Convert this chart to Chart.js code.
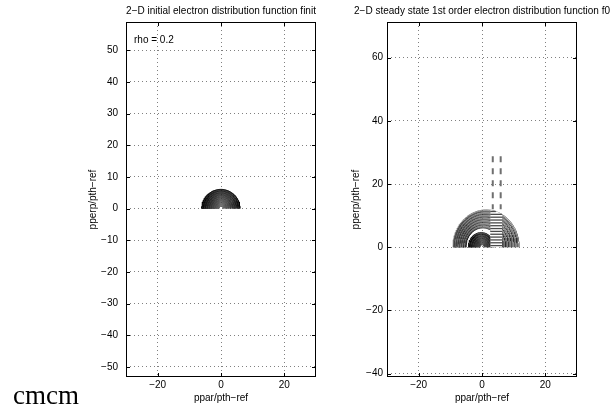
<!DOCTYPE html>
<html>
<head>
<meta charset="utf-8">
<script src="https://cdn.jsdelivr.net/npm/chart.js@4.4.1/dist/chart.umd.min.js"></script>
<style>
  html, body { margin: 0; padding: 0; background: #fff; }
  #wrap { position: relative; width: 611px; height: 414px; overflow: hidden; }
  #wrap canvas { position: absolute; left: 0; top: 0; }
</style>
</head>
<body>
<div id="wrap">
  <canvas id="cInit" width="611" height="414"></canvas>
  <canvas id="cSteady" width="611" height="414"></canvas>
</div>
<script>
// ---- axes ----
const xRange = [-30, 30];
const xTicks = [-20, 0, 20];
const initYRange = [-53.2, 58.9];
const initYTicks = [-50, -40, -30, -20, -10, 0, 10, 20, 30, 40, 50];
const steadyYRange = [-41.1, 71.3];
const steadyYTicks = [-40, -20, 0, 20, 40, 60];

// ---- initial distribution: contour levels (radius in p/pth) ----
const initLevels = [0.7, 0.9, 1.1, 1.3, 1.5, 1.7, 1.9, 2.1, 2.3, 2.5, 2.7, 2.9, 3.1, 3.3,
                    3.5, 3.7, 3.9, 4.1, 4.3, 4.5, 4.7, 4.9, 5.1, 5.3, 5.5, 5.7, 5.9, 6.05];

// ---- steady state f0: inner core contours ----
const steadyInnerLevels = [0.7, 0.9, 1.1, 1.3, 1.5, 1.7, 1.9, 2.1, 2.3, 2.5, 2.7, 2.9, 3.1, 3.3, 3.5, 3.7, 3.9, 4.1];
const steadyInnerShift  = [0.0, 0.0, 0.0, -0.02, -0.04, -0.05, -0.06, -0.08, -0.09, -0.1, -0.11, -0.13, -0.14, -0.15, -0.16, -0.18, -0.19, -0.2];
// ---- steady state f0: outer (drifted) contours ----
const steadyOuterLevels = [5.4, 5.65, 5.9, 6.15, 6.4, 6.65, 6.9, 7.15, 7.4, 7.65, 7.9,
                           8.15, 8.4, 8.65, 8.9, 9.15, 9.4, 9.65, 9.9, 10.15, 10.45];
const steadyOuterShift  = [0.3, 0.35, 0.4, 0.45, 0.5, 0.55, 0.6, 0.65, 0.7, 0.75, 0.8,
                           0.85, 0.9, 0.95, 1.0, 1.05, 1.1, 1.15, 1.2, 1.28, 1.35];
const steadyStretch = 1.13;   // pperp / ppar ratio of the steady-state contours
// ---- resonance band (ppar range) and its horizontal contour pieces ----
const bandEdges = [2.6, 6.4];
const bandLevels = [0.5, 1.4, 2.3, 3.2, 4.1, 5.0, 5.9, 6.8, 7.7, 8.6, 9.5, 10.4, 11.3];
// ---- dashed markers ----
const beamX = [3.4, 5.9];
const beamY = [28.8, 12.0];

const FONT = '"Liberation Sans", Arial, Helvetica, sans-serif';
const minus = v => String(v).replace('-', '\u2212');

function halfEllipse(cx, a, b, n) {
  const pts = [];
  for (let i = 0; i <= n; i++) {
    const t = Math.PI * i / n;
    pts.push({ x: cx + a * Math.cos(t), y: b * Math.sin(t) });
  }
  return pts;
}
function ellipseTop(cx, a, b, x) {
  const u = (x - cx) / a;
  return Math.abs(u) >= 1 ? 0 : b * Math.sqrt(1 - u * u);
}
function gray(v) { const h = Math.round(v).toString(16).padStart(2, '0'); return '#' + h + h + h; }

// frame, inner tick marks and free text
const frame = {
  id: 'frame',
  afterDraw(chart, args, opts) {
    const { ctx, chartArea: { left, right, top, bottom } } = chart;
    const xs = chart.scales.x, ys = chart.scales.y;
    ctx.save();
    ctx.strokeStyle = '#000';
    ctx.lineWidth = 1;
    ctx.beginPath();
    xs.ticks.forEach(t => {
      const p = Math.round(xs.getPixelForValue(t.value)) + 0.5;
      ctx.moveTo(p, bottom); ctx.lineTo(p, bottom - 4);
      ctx.moveTo(p, top); ctx.lineTo(p, top + 4);
    });
    ys.ticks.forEach(t => {
      const p = Math.round(ys.getPixelForValue(t.value)) + 0.5;
      ctx.moveTo(left, p); ctx.lineTo(left + 4, p);
      ctx.moveTo(right, p); ctx.lineTo(right - 4, p);
    });
    ctx.stroke();
    ctx.strokeRect(left + 0.5, top + 0.5, right - left - 1, bottom - top - 1);
    ctx.fillStyle = '#000';
    ctx.font = '10px ' + FONT;
    ctx.textAlign = 'center';
    ctx.textBaseline = 'middle';
    ctx.fillText(opts.title, (left + right) / 2, 11);
    if (opts.note) {
      ctx.textAlign = 'left';
      ctx.fillText(opts.note, left + 8, top + 18);
    }
    if (opts.corner) {
      ctx.font = '27px "Liberation Serif", "Times New Roman", serif';
      ctx.textAlign = 'left';
      ctx.textBaseline = 'alphabetic';
      ctx.fillText(opts.corner, 13, 404);
    }
    ctx.restore();
  }
};

function makeChart(id, cfg) {
  const tickFont = { family: FONT, size: 10 };
  return new Chart(document.getElementById(id), {
    type: 'scatter',
    data: { datasets: cfg.datasets },
    options: {
      responsive: false,
      animation: false,
      devicePixelRatio: 1,
      layout: { padding: cfg.padding },
      elements: { point: { radius: 0 }, line: { tension: 0 } },
      plugins: {
        legend: { display: false },
        tooltip: { enabled: false },
        frame: { title: cfg.title, note: cfg.note, corner: cfg.corner }
      },
      scales: {
        x: {
          type: 'linear', min: xRange[0], max: xRange[1],
          afterBuildTicks: s => { s.ticks = xTicks.map(v => ({ value: v })); },
          afterFit: s => { s.height = 37; },
          ticks: { color: '#000', font: tickFont, padding: 2, maxRotation: 0, autoSkip: false, callback: minus },
          grid: { color: '#808080', lineWidth: 1, drawTicks: false },
          border: { display: false, dash: [1, 3] },
          title: { display: true, text: 'ppar/pth\u2212ref', color: '#000', font: tickFont, padding: { top: 0, bottom: 10 } }
        },
        y: {
          type: 'linear', min: cfg.yRange[0], max: cfg.yRange[1],
          afterBuildTicks: s => { s.ticks = cfg.yTicks.map(v => ({ value: v })); },
          afterFit: s => { s.width = cfg.yWidth; },
          ticks: { color: '#000', font: tickFont, padding: cfg.yTickPad, autoSkip: false, callback: minus },
          grid: { color: '#808080', lineWidth: 1, drawTicks: false },
          border: { display: false, dash: [1, 3] },
          title: { display: true, text: 'pperp/pth\u2212ref', color: '#000', font: tickFont, padding: { top: cfg.yTitlePad, bottom: 0 } }
        }
      }
    },
    plugins: [frame]
  });
}

// ---- initial distribution datasets ----
const initSets = initLevels.map((r, i) => ({
  data: halfEllipse(0, r, r, 90),
  showLine: true, fill: false,
  borderColor: gray(i % 3 === 1 ? 70 * (1 - i / initLevels.length) + 30 : 100 * (1 - i / (initLevels.length - 1))),
  borderWidth: 1,
  order: 3
}));

makeChart('cInit', {
  datasets: initSets,
  padding: { left: 0, right: 295, top: 22, bottom: 0 },
  yRange: initYRange, yTicks: initYTicks,
  yWidth: 126, yTickPad: 8, yTitlePad: 87,
  title: '2\u2212D initial electron distribution function finit',
  note: 'rho = 0.2',
  corner: 'cmcm'
});

// ---- steady-state datasets ----
const steadySets = [];
beamX.forEach(x => steadySets.push({
  data: [{ x: x, y: beamY[0] }, { x: x, y: beamY[1] }],
  showLine: true, fill: false,
  borderColor: '#6f6f6f', borderWidth: 2, borderDash: [6, 6],
  order: 0
}));
const oIdx = steadyOuterLevels.length - 1;
const oCx = steadyOuterShift[oIdx], oA = steadyOuterLevels[oIdx], oB = oA * steadyStretch;
bandLevels.forEach(y => {
  const xr = Math.min(bandEdges[1], oCx + oA * Math.sqrt(Math.max(0, 1 - (y / oB) ** 2)));
  if (xr > bandEdges[0]) steadySets.push({
    data: [{ x: bandEdges[0], y: y }, { x: xr, y: y }],
    showLine: true, fill: false,
    borderColor: '#4a4a4a', borderWidth: 1.3,
    order: 1
  });
});
const bandTop = [];
for (let i = 0; i <= 20; i++) {
  const x = bandEdges[0] + (bandEdges[1] - bandEdges[0]) * i / 20;
  bandTop.push({ x: x, y: ellipseTop(oCx, oA, oB, x) });
}
steadySets.push({
  data: bandTop, showLine: true, fill: 'origin',
  backgroundColor: '#ffffff', borderWidth: 0, borderColor: 'rgba(0,0,0,0)',
  order: 2
});
steadyOuterLevels.forEach((a, i) => steadySets.push({
  data: halfEllipse(steadyOuterShift[i], a, a * steadyStretch, 140),
  showLine: true, fill: false,
  borderColor: i % 3 === 0 ? '#2a2a2a' : (i % 3 === 1 ? '#5a5a5a' : '#777777'), borderWidth: 1,
  order: 3
}));
steadyInnerLevels.forEach((a, i) => steadySets.push({
  data: halfEllipse(steadyInnerShift[i], a, a * steadyStretch, 100),
  showLine: true, fill: false,
  borderColor: gray(i % 3 === 1 ? 60 : 80 * (1 - i / (steadyInnerLevels.length - 1))), borderWidth: 1,
  order: 3
}));

makeChart('cSteady', {
  datasets: steadySets,
  padding: { left: 330, right: 34, top: 22, bottom: 0 },
  yRange: steadyYRange, yTicks: steadyYTicks,
  yWidth: 57, yTickPad: 4, yTitlePad: 20,
  title: '2\u2212D steady state 1st order electron distribution function f0'
});
</script>
</body>
</html>
